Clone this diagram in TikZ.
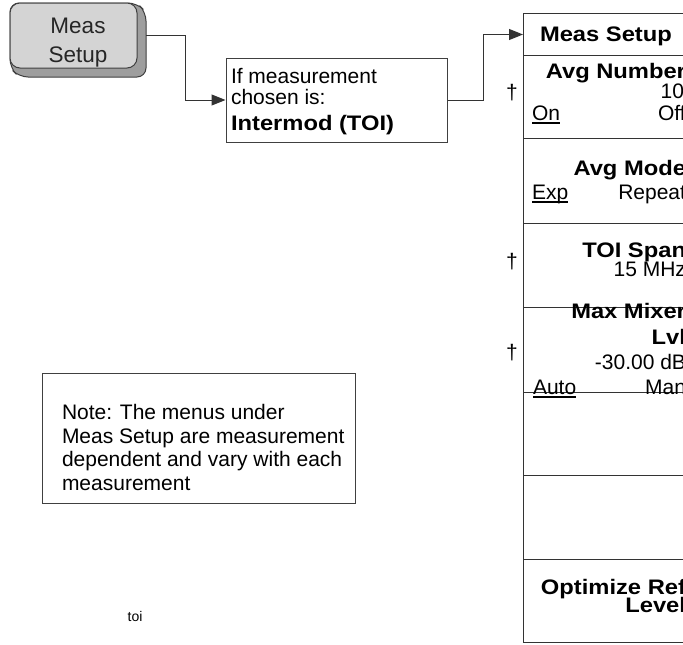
\documentclass[tikz,border=0pt]{standalone}
\usepackage{fontspec}
\usepackage{graphicx}
\setmainfont{Liberation Sans}
\usetikzlibrary{arrows.meta}
\newcommand{\wideb}[1]{\scalebox{1.13}[1]{#1}}
\begin{document}
\begin{tikzpicture}[x=1pt,y=-1pt,
  conn/.style={draw=black!80, line width=1pt, -{Triangle[length=14pt,width=11pt]}},
  txt/.style={inner sep=0pt, outer sep=0pt, text=black},
  nrm/.style={txt, font=\fontsize{21}{24}\selectfont},
  bld/.style={txt, font=\fontsize{21}{24}\selectfont\bfseries},
  small/.style={txt, font=\fontsize{14}{16}\selectfont},
  keytxt/.style={txt, text=black!85, font=\fontsize{22.5}{26}\selectfont},
  keyface/.style={draw=black!75, line width=1pt, fill=black!17, rounded corners=10pt, inner sep=0pt},
  keyshadow/.style={draw=black!75, line width=1pt, fill=black!38},
  plainbox/.style={draw=black!75, line width=1pt, fill=white, inner sep=0pt},
  cell/.style={draw=black!80, line width=1pt, fill=white, minimum width=170pt, inner sep=0pt, anchor=north west},
  uline/.style={draw=black, line width=1.2pt}
]
\useasboundingbox (0,0) rectangle (683,645);
\clip (0,0) rectangle (683,645);

% hardkey
\draw[keyshadow, rounded corners=9pt] (10,3) -- (137,3) -- (146,12) -- (146,77) -- (19,77) -- (10,68) -- cycle;
\node[keyface, minimum width=127pt, minimum height=65pt] (key) at (73.5,35.5) {};
\node[keytxt, anchor=base] (keym) at (78,33) {Meas};
\node[keytxt, anchor=base] (keys) at (78,62) {Setup};
\coordinate (keyout) at (146,35);

% condition box
\node[plainbox, minimum width=221pt, minimum height=84pt] (ifbox) at (336.5,100) {};
\node[nrm, anchor=base west] (if1) at (231,83) {If measurement};
\node[nrm, anchor=base west] (if2) at (231,104) {chosen is:};
\node[bld, anchor=base west] (if3) at (231,130) {\wideb{Intermod (TOI)}};

% menu panel
\node[cell, minimum height=42pt] (ptitle) at (523,13) {};
\node[cell, minimum height=83pt] (k1) at (523,55) {};
\node[cell, minimum height=85pt] (k2) at (523,138) {};
\node[cell, minimum height=84pt] (k3) at (523,223) {};
\node[cell, minimum height=85pt] (k4) at (523,307) {};
\node[cell, minimum height=83pt] (k5) at (523,392) {};
\node[cell, minimum height=84pt] (k6) at (523,475) {};
\node[cell, minimum height=83pt] (k7) at (523,559) {};

% connectors
\draw[conn] (keyout) -- (185,35) |- (ifbox.west);
\draw[conn] (ifbox.east) -- (483,100) |- (ptitle.west);

% panel texts
\node[bld, anchor=base west] (tTitle) at (540,41) {\wideb{Meas Setup}};
\node[bld, anchor=base east] (tAvgN) at (686,78) {\wideb{Avg Number}};
\node[nrm, anchor=base east] (t10) at (684,98) {10};
\node[nrm, anchor=base west] (tOn) at (532,120) {On};
\node[nrm, anchor=base west] (tOff) at (658,120) {Off};
\node[bld, anchor=base east] (tAvgM) at (686,175) {\wideb{Avg Mode}};
\node[nrm, anchor=base west] (tExp) at (532,199) {Exp};
\node[nrm, anchor=base east] (tRep) at (686,199) {Repeat};
\node[bld, anchor=base east] (tSpan) at (686,257) {\wideb{TOI Span}};
\node[nrm, anchor=base east] (t15) at (686,276) {15 MHz};
\node[bld, anchor=base east] (tMax) at (686,318) {\wideb{Max Mixer}};
\node[bld, anchor=base east] (tLvl) at (686,344) {\wideb{Lvl}};
\node[nrm, anchor=base east] (t30) at (686,369) {-30.00 dB};
\node[nrm, anchor=base west] (tAuto) at (533,394) {Auto};
\node[nrm, anchor=base east] (tMan) at (686,394) {Man};
\node[bld, anchor=base east] (tOpt) at (686,594) {\wideb{Optimize Ref}};
\node[bld, anchor=base east] (tLev) at (686,612) {\wideb{Level}};

\draw[uline] ([yshift=-3pt]tOn.base west) -- ([yshift=-3pt]tOn.base east);
\draw[uline] ([yshift=-3pt]tExp.base west) -- ([yshift=-3pt]tExp.base east);
\draw[uline] ([yshift=-3pt]tAuto.base west) -- ([yshift=-3pt]tAuto.base east);

% daggers
\node[nrm] (dag1) at (512,93) {†};
\node[nrm] (dag2) at (512,262) {†};
\node[nrm] (dag3) at (512,353) {†};

% note
\node[plainbox, minimum width=313pt, minimum height=130pt] (note) at (198.5,438) {};
\node[nrm, anchor=base west] (n1) at (62,419) {Note: The menus under};
\node[nrm, anchor=base west] (n2) at (62,443) {Meas Setup are measurement};
\node[nrm, anchor=base west] (n3) at (62,466) {dependent and vary with each};
\node[nrm, anchor=base west] (n4) at (62,490) {measurement};

\node[small, anchor=base] (toi) at (135,621) {toi};
\end{tikzpicture}
\end{document}
